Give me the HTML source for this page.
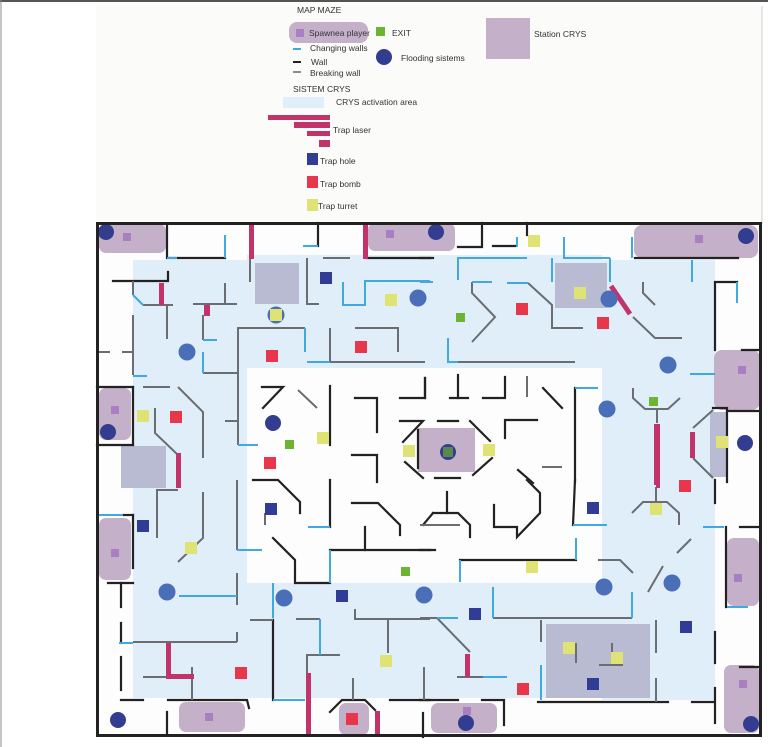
<!DOCTYPE html>
<html><head><meta charset="utf-8"><style>
html,body{margin:0;padding:0;background:#fff;width:768px;height:747px;overflow:hidden}
svg{display:block}
text{font-family:"Liberation Sans",sans-serif;fill:#333}
</style></head><body>
<svg width="768" height="747" viewBox="0 0 768 747" xmlns="http://www.w3.org/2000/svg">
<rect x="0" y="0" width="768" height="747" fill="#fff"/>
<rect x="96" y="6" width="666" height="218" fill="#fbfbfa"/>
<line x1="0" y1="1" x2="768" y2="1" stroke="#555" stroke-width="2"/>
<line x1="1" y1="0" x2="1" y2="747" stroke="#888" stroke-width="1"/>
<line x1="762" y1="6" x2="762" y2="224" stroke="#ccc" stroke-width="1"/>

<!-- Legend -->
<text x="297" y="13" font-size="8.5">MAP MAZE</text>
<rect x="289" y="22" width="79" height="21" rx="8" fill="#c4b0c8"/>
<rect x="296" y="29" width="8" height="8" fill="#a87fc0"/>
<text x="309" y="36" font-size="8.5">Spawnea player</text>
<rect x="376" y="27" width="9" height="9" fill="#6bb533"/>
<text x="392" y="36" font-size="8.5">EXIT</text>
<line x1="293" y1="49" x2="301" y2="49" stroke="#3fa9e0" stroke-width="2"/>
<text x="310" y="51" font-size="8.5">Changing walls</text>
<circle cx="384" cy="57" r="8" fill="#333d90"/>
<text x="401" y="61" font-size="8.5">Flooding sistems</text>
<line x1="293" y1="62" x2="301" y2="62" stroke="#222" stroke-width="2"/>
<text x="311" y="65" font-size="8.5">Wall</text>
<line x1="293" y1="72" x2="301" y2="72" stroke="#666" stroke-width="1.5"/>
<text x="310" y="76" font-size="8.5">Breaking wall</text>
<rect x="486" y="18" width="44" height="41" fill="#c4b0c8"/>
<text x="534" y="37" font-size="8.5">Station CRYS</text>
<text x="293" y="92" font-size="8.5">SISTEM CRYS</text>
<rect x="283" y="97" width="41" height="11" fill="#dfeef8"/>
<text x="336" y="105" font-size="8.5">CRYS activation area</text>
<rect x="268" y="115" width="62" height="5" fill="#c2336a"/>
<rect x="294" y="122" width="36" height="6" fill="#c2336a"/>
<rect x="307" y="131" width="23" height="5" fill="#c2336a"/>
<rect x="319" y="140" width="11" height="7" fill="#c2336a"/>
<text x="333" y="133" font-size="8.5">Trap laser</text>
<rect x="307" y="153" width="11" height="12" fill="#313d94"/>
<text x="320" y="164" font-size="8.5">Trap hole</text>
<rect x="307" y="176" width="11" height="12" fill="#e8364a"/>
<text x="320" y="187" font-size="8.5">Trap bomb</text>
<rect x="307" y="199" width="11" height="12" fill="#dfe374"/>
<text x="318" y="209" font-size="8.5">Trap turret</text>

<!-- Maze background -->
<rect x="97" y="223" width="663" height="513" fill="#fdfdfd"/>
<g fill="#dfeef8">
<rect x="133" y="260" width="114" height="438"/>
<rect x="247" y="255" width="355" height="113"/>
<rect x="602" y="260" width="113" height="440"/>
<rect x="247" y="583" width="355" height="115"/>
</g>

<!-- Stations -->
<g fill="#b8bbd2">
<rect x="255" y="263" width="44" height="41"/>
<rect x="555" y="263" width="52" height="45"/>
<rect x="121" y="446" width="45" height="42"/>
<rect x="546" y="624" width="104" height="74"/>
<rect x="710" y="412" width="16" height="65"/>
</g>
<rect x="418" y="428" width="57" height="44" fill="#c4b0c8"/>

<!-- Spawn pads -->
<g fill="#c4b0c8">
<rect x="99" y="224" width="67" height="29" rx="7"/>
<rect x="368" y="223" width="87" height="28" rx="7"/>
<rect x="634" y="225" width="124" height="33" rx="8"/>
<rect x="714" y="350" width="46" height="60" rx="8"/>
<rect x="99" y="388" width="32" height="52" rx="7"/>
<rect x="99" y="518" width="32" height="62" rx="7"/>
<rect x="727" y="538" width="32" height="68" rx="7"/>
<rect x="179" y="702" width="66" height="30" rx="7"/>
<rect x="339" y="703" width="30" height="32" rx="7"/>
<rect x="431" y="703" width="66" height="30" rx="7"/>
<rect x="724" y="665" width="35" height="68" rx="7"/>
</g>
<g fill="#a87fc0">
<rect x="123" y="233" width="8" height="8"/><rect x="386" y="230" width="8" height="8"/>
<rect x="695" y="235" width="8" height="8"/><rect x="738" y="366" width="8" height="8"/>
<rect x="111" y="406" width="8" height="8"/><rect x="111" y="549" width="8" height="8"/>
<rect x="734" y="574" width="8" height="8"/><rect x="205" y="713" width="8" height="8"/>
<rect x="463" y="707" width="8" height="8"/><rect x="739" y="680" width="8" height="8"/>
</g>

<!-- Walls: black -->
<g stroke="#222" stroke-width="2.2" fill="none" stroke-linecap="square">
<polyline points="167,225 167,258 225,258"/>
<line x1="318" y1="223" x2="318" y2="246"/>
<polyline points="482,223 482,247 458,247"/>
<line x1="493" y1="246" x2="515" y2="246"/>
<line x1="635" y1="258" x2="738" y2="258"/>
<line x1="367" y1="258" x2="430" y2="258"/>
<line x1="420" y1="258" x2="433" y2="258"/>
<polyline points="113,281 168,281 168,272"/>
<line x1="97" y1="387" x2="133" y2="387"/>
<line x1="97" y1="445" x2="133" y2="445"/>
<line x1="133" y1="387" x2="133" y2="445"/>
<polyline points="737,282 715,282 715,350"/>
<line x1="742" y1="350" x2="760" y2="350"/>
<polyline points="713,408 727,408 727,482"/>
<line x1="727" y1="411" x2="758" y2="411"/>
<line x1="123" y1="515" x2="133" y2="515"/>
<line x1="133" y1="515" x2="133" y2="568"/>
<line x1="108" y1="583" x2="133" y2="583"/>
<line x1="121" y1="583" x2="121" y2="607"/>
<line x1="121" y1="623" x2="121" y2="643"/>
<line x1="121" y1="657" x2="121" y2="690"/>
<line x1="121" y1="700" x2="143" y2="700"/>
<polyline points="168,700 247,700 249,708"/>
<line x1="167" y1="712" x2="167" y2="733"/>
<line x1="330" y1="386" x2="330" y2="445"/>
<polyline points="355,398 377,398 377,432"/>
<polyline points="400,398 425,398 425,378"/>
<polyline points="400,421 423,421 403,442"/>
<polyline points="352,455 377,455 377,482"/>
<line x1="405" y1="462" x2="423" y2="478"/>
<polyline points="262,387 283,387 263,408"/>
<polyline points="253,480 278,480 300,502 300,513"/>
<line x1="330" y1="480" x2="330" y2="527"/>
<polyline points="352,503 378,503 400,525 400,535"/>
<polyline points="273,538 295,560 295,583 330,583"/>
<line x1="330" y1="550" x2="430" y2="550"/>
<line x1="420" y1="550" x2="435" y2="550"/>
<line x1="365" y1="527" x2="365" y2="550"/>
<polyline points="460,560 576,560"/>
<line x1="575" y1="388" x2="575" y2="482"/>
<line x1="575" y1="480" x2="573" y2="525"/>
<line x1="425" y1="378" x2="425" y2="398"/>
<line x1="458" y1="375" x2="458" y2="398"/>
<line x1="450" y1="398" x2="468" y2="398"/>
<polyline points="505,377 505,398 483,398"/>
<line x1="543" y1="388" x2="562" y2="408"/>
<line x1="438" y1="421" x2="458" y2="421"/>
<line x1="470" y1="421" x2="490" y2="441"/>
<line x1="473" y1="475" x2="492" y2="458"/>
<line x1="435" y1="478" x2="460" y2="478"/>
<line x1="418" y1="430" x2="418" y2="468"/>
<polyline points="505,438 505,420 537,420"/>
<line x1="518" y1="470" x2="533" y2="483"/>
<polyline points="527,480 540,493 540,513 517,537 517,527 494,527 494,505"/>
<polyline points="433,513 458,513 470,525 470,537"/>
<line x1="447" y1="492" x2="447" y2="513"/>
<line x1="433" y1="513" x2="423" y2="525"/>
<line x1="273" y1="620" x2="273" y2="700"/>
<polyline points="330,712 342,700 365,700 375,710"/>
<line x1="390" y1="700" x2="430" y2="700"/>
<line x1="420" y1="700" x2="458" y2="700"/>
<line x1="423" y1="713" x2="423" y2="737"/>
<polyline points="482,700 504,700 504,725"/>
<line x1="538" y1="702" x2="668" y2="702"/>
<line x1="692" y1="702" x2="713" y2="702"/>
<line x1="715" y1="688" x2="715" y2="723"/>
<line x1="715" y1="632" x2="715" y2="663"/>
<line x1="726" y1="527" x2="726" y2="607"/>
<line x1="740" y1="527" x2="760" y2="527"/>
<line x1="740" y1="667" x2="760" y2="667"/>
<line x1="715" y1="480" x2="715" y2="503"/>
<line x1="527" y1="223" x2="527" y2="235"/>
</g>

<!-- Walls: grey -->
<g stroke="#6a6d72" stroke-width="2" fill="none">
<line x1="250" y1="258" x2="250" y2="282"/>
<polyline points="307,258 307,304 319,304"/>
<line x1="323" y1="258" x2="350" y2="258"/>
<polyline points="143,305 173,305"/>
<line x1="133" y1="281" x2="133" y2="295"/>
<line x1="167" y1="305" x2="167" y2="339"/>
<line x1="193" y1="304" x2="237" y2="304"/>
<line x1="225" y1="283" x2="225" y2="304"/>
<line x1="203" y1="315" x2="203" y2="340"/>
<line x1="133" y1="315" x2="133" y2="375"/>
<line x1="97" y1="352" x2="110" y2="352"/>
<line x1="122" y1="352" x2="133" y2="352"/>
<polyline points="203,373 238,373"/>
<polyline points="238,445 238,328 305,328"/>
<line x1="330" y1="328" x2="330" y2="362"/>
<line x1="330" y1="362" x2="425" y2="362"/>
<polyline points="355,328 398,328 398,352"/>
<line x1="143" y1="387" x2="170" y2="387"/>
<polyline points="178,387 203,412 203,458"/>
<polyline points="155,408 155,433 178,455"/>
<line x1="225" y1="421" x2="238" y2="421"/>
<line x1="298" y1="390" x2="317" y2="408"/>
<line x1="458" y1="362" x2="575" y2="362"/>
<polyline points="472,282 472,293 495,317 472,342"/>
<polyline points="528,283 552,305 552,328 583,328"/>
<polyline points="643,282 643,293 655,305"/>
<polyline points="633,317 655,338 682,338"/>
<polyline points="633,388 633,398 645,409 668,409 680,398"/>
<line x1="657" y1="409" x2="657" y2="423"/>
<line x1="693" y1="428" x2="713" y2="410"/>
<line x1="693" y1="458" x2="713" y2="478"/>
<line x1="527" y1="376" x2="527" y2="397"/>
<line x1="542" y1="467" x2="562" y2="467"/>
<polyline points="157,538 157,490 178,490"/>
<polyline points="203,492 203,538 178,562"/>
<line x1="237" y1="480" x2="237" y2="550"/>
<line x1="265" y1="513" x2="265" y2="525"/>
<line x1="237" y1="573" x2="237" y2="605"/>
<line x1="133" y1="642" x2="237" y2="642"/>
<line x1="237" y1="632" x2="237" y2="642"/>
<line x1="143" y1="677" x2="168" y2="677"/>
<line x1="192" y1="667" x2="192" y2="700"/>
<line x1="250" y1="620" x2="273" y2="620"/>
<line x1="296" y1="619" x2="320" y2="619"/>
<polyline points="307,673 307,655 340,655"/>
<polyline points="355,609 355,619 430,619"/>
<line x1="388" y1="619" x2="388" y2="653"/>
<line x1="353" y1="678" x2="353" y2="700"/>
<line x1="424" y1="667" x2="424" y2="700"/>
<line x1="420" y1="618" x2="437" y2="618"/>
<line x1="437" y1="618" x2="470" y2="652"/>
<line x1="457" y1="677" x2="483" y2="677"/>
<line x1="420" y1="525" x2="460" y2="525"/>
<polyline points="598,560 620,560 633,573"/>
<line x1="648" y1="592" x2="663" y2="566"/>
<line x1="677" y1="553" x2="691" y2="539"/>
<line x1="493" y1="618" x2="632" y2="618"/>
<line x1="541" y1="620" x2="541" y2="642"/>
<line x1="576" y1="643" x2="576" y2="663"/>
<polyline points="612,643 612,665"/>
<line x1="599" y1="665" x2="623" y2="665"/>
<line x1="656" y1="620" x2="656" y2="653"/>
<line x1="656" y1="678" x2="656" y2="702"/>
<polyline points="632,513 643,502 667,502 679,513 679,525"/>
<line x1="656" y1="487" x2="656" y2="502"/>
</g>

<!-- Walls: blue (changing) -->
<g stroke="#3fa9e0" stroke-width="2" fill="none">
<line x1="167" y1="258" x2="177" y2="258"/>
<line x1="225" y1="235" x2="225" y2="258"/>
<line x1="303" y1="246" x2="318" y2="246"/>
<line x1="517" y1="237" x2="517" y2="247"/>
<polyline points="564,237 564,258 610,258"/>
<line x1="610" y1="258" x2="610" y2="282"/>
<line x1="632" y1="237" x2="632" y2="258"/>
<polyline points="458,280 458,258 527,258"/>
<line x1="552" y1="258" x2="552" y2="282"/>
<line x1="420" y1="282" x2="433" y2="282"/>
<line x1="472" y1="282" x2="492" y2="282"/>
<line x1="507" y1="283" x2="528" y2="283"/>
<polyline points="448,338 448,362 458,362"/>
<line x1="692" y1="260" x2="692" y2="282"/>
<line x1="737" y1="282" x2="737" y2="303"/>
<line x1="690" y1="374" x2="715" y2="374"/>
<polyline points="343,282 343,305 365,305 365,281 430,281"/>
<line x1="133" y1="295" x2="143" y2="305"/>
<line x1="203" y1="340" x2="217" y2="340"/>
<line x1="133" y1="376" x2="147" y2="376"/>
<line x1="203" y1="352" x2="203" y2="373"/>
<line x1="305" y1="328" x2="305" y2="352"/>
<line x1="307" y1="362" x2="330" y2="362"/>
<line x1="238" y1="445" x2="258" y2="445"/>
<polyline points="575,388 598,388"/>
<line x1="98" y1="515" x2="123" y2="515"/>
<line x1="237" y1="550" x2="262" y2="550"/>
<line x1="308" y1="527" x2="330" y2="527"/>
<line x1="330" y1="550" x2="330" y2="583"/>
<line x1="179" y1="596" x2="237" y2="596"/>
<line x1="119" y1="643" x2="133" y2="643"/>
<line x1="273" y1="583" x2="273" y2="618"/>
<line x1="273" y1="700" x2="305" y2="700"/>
<line x1="320" y1="619" x2="320" y2="655"/>
<line x1="573" y1="525" x2="607" y2="525"/>
<line x1="576" y1="538" x2="576" y2="560"/>
<line x1="460" y1="560" x2="460" y2="582"/>
<line x1="632" y1="592" x2="632" y2="618"/>
<line x1="493" y1="587" x2="493" y2="618"/>
<line x1="437" y1="618" x2="458" y2="618"/>
<line x1="483" y1="677" x2="507" y2="677"/>
<line x1="541" y1="665" x2="541" y2="700"/>
<line x1="703" y1="527" x2="724" y2="527"/>
<line x1="727" y1="607" x2="748" y2="607"/>
</g>

<!-- Lasers -->
<g fill="#c2336a">
<rect x="249" y="223" width="5" height="36"/>
<rect x="363" y="223" width="5" height="36"/>
<rect x="159" y="283" width="5" height="22"/>
<rect x="204" y="305" width="6" height="11"/>
<rect x="176" y="453" width="5" height="35"/>
<rect x="654" y="424" width="6" height="61"/>
<rect x="690" y="432" width="5" height="26"/>
<rect x="166" y="643" width="5" height="36"/>
<rect x="166" y="674" width="28" height="5"/>
<rect x="306" y="673" width="5" height="63"/>
<rect x="465" y="654" width="5" height="23"/>
<rect x="375" y="711" width="5" height="25"/>
<rect x="656" y="480" width="4" height="8"/>
<line x1="611" y1="286" x2="630" y2="314" stroke="#c2336a" stroke-width="5"/>
</g>

<!-- Flood circles -->
<g fill="#333d90">
<circle cx="106" cy="232" r="8"/><circle cx="436" cy="232" r="8"/><circle cx="746" cy="236" r="8"/>
<circle cx="108" cy="432" r="8"/><circle cx="745" cy="443" r="8"/><circle cx="118" cy="720" r="8"/>
<circle cx="466" cy="723" r="8"/><circle cx="751" cy="724" r="8"/><circle cx="273" cy="423" r="8"/>
<circle cx="448" cy="452" r="8"/>
</g>
<g fill="#4a6fb8">
<circle cx="187" cy="352" r="8.5"/><circle cx="276" cy="315" r="8.5"/><circle cx="418" cy="298" r="8.5"/>
<circle cx="609" cy="299" r="8.5"/><circle cx="668" cy="365" r="8.5"/><circle cx="607" cy="409" r="8.5"/>
<circle cx="167" cy="592" r="8.5"/><circle cx="284" cy="598" r="8.5"/><circle cx="424" cy="595" r="8.5"/>
<circle cx="604" cy="587" r="8.5"/><circle cx="672" cy="583" r="8.5"/>
</g>

<!-- Holes -->
<g fill="#313d94">
<rect x="320" y="272" width="12" height="12"/><rect x="265" y="503" width="12" height="12"/>
<rect x="137" y="520" width="12" height="12"/><rect x="587" y="502" width="12" height="12"/>
<rect x="336" y="590" width="12" height="12"/><rect x="469" y="608" width="12" height="12"/>
<rect x="680" y="621" width="12" height="12"/><rect x="587" y="678" width="12" height="12"/>
</g>
<!-- Bombs -->
<g fill="#e8364a">
<rect x="266" y="350" width="12" height="12"/><rect x="355" y="341" width="12" height="12"/>
<rect x="516" y="303" width="12" height="12"/><rect x="597" y="317" width="12" height="12"/>
<rect x="170" y="411" width="12" height="12"/><rect x="264" y="457" width="12" height="12"/>
<rect x="679" y="480" width="12" height="12"/><rect x="235" y="667" width="12" height="12"/>
<rect x="517" y="683" width="12" height="12"/><rect x="346" y="713" width="12" height="12"/>
</g>
<!-- Turrets -->
<g fill="#dfe374">
<rect x="385" y="294" width="12" height="12"/><rect x="270" y="309" width="12" height="12"/>
<rect x="574" y="287" width="12" height="12"/><rect x="137" y="410" width="12" height="12"/>
<rect x="317" y="432" width="12" height="12"/><rect x="403" y="445" width="12" height="12"/>
<rect x="483" y="444" width="12" height="12"/><rect x="716" y="436" width="12" height="12"/>
<rect x="650" y="503" width="12" height="12"/><rect x="185" y="542" width="12" height="12"/>
<rect x="526" y="561" width="12" height="12"/><rect x="380" y="655" width="12" height="12"/>
<rect x="563" y="642" width="12" height="12"/><rect x="611" y="652" width="12" height="12"/>
<rect x="528" y="235" width="12" height="12"/>
</g>
<!-- Exits -->
<g fill="#6bb533">
<rect x="456" y="313" width="9" height="9"/><rect x="649" y="397" width="9" height="9"/>
<rect x="285" y="440" width="9" height="9"/><rect x="401" y="567" width="9" height="9"/>
</g>
<rect x="443" y="447" width="10" height="10" fill="#5a8a4a"/>

<!-- Border -->
<rect x="97.5" y="223.5" width="663" height="512" fill="none" stroke="#222" stroke-width="3"/>
</svg>
</body></html>
